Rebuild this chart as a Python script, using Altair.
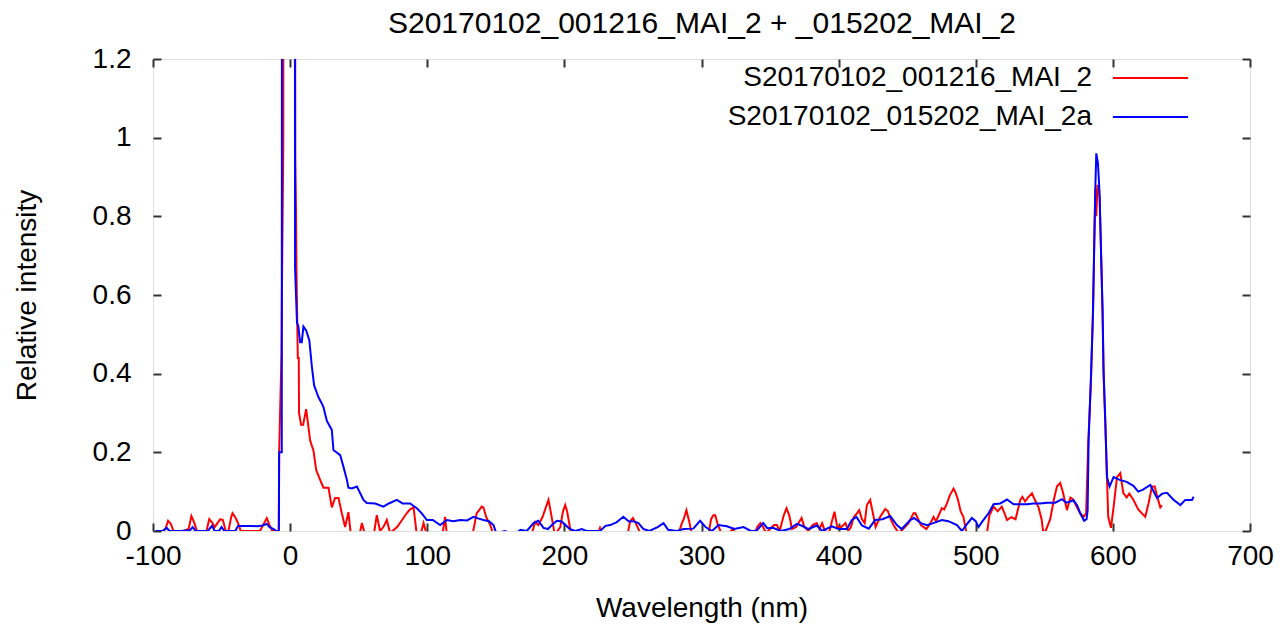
import altair as alt
import pandas as pd

NAME_RED = "S20170102_001216_MAI_2"
NAME_BLUE = "S20170102_015202_MAI_2a"
TITLE = "S20170102_001216_MAI_2 + _015202_MAI_2"

red_x = [-97, -93, -91, -89, -87, -85, -78, -74, -72, -70, -68, -61, -59, -57, -55, -53, -51, -49, -47, -45,
         -43, -42, -40, -38, -36, -22, -19, -17, -15, -13, -8.3, -8.0, -6.3, -6.0, -5.0, -4.8, 3.5, 3.8, 4.3, 4.6,
         5.2, 5.6, 6.3, 6.5, 8, 9.5, 11.7, 14.6, 17, 19, 21.9, 24.3, 28, 30.4, 32.8, 35.3, 37.7, 40.1, 42.5, 44.3,
         50, 52.3, 54.7, 61, 63.2, 65.6, 68, 70.5, 72.9, 78, 82, 85, 87.5, 90, 92.4, 95, 97.3, 99.7, 111, 113,
         114.3, 133, 136, 139.8, 141, 143, 146, 148.3, 176, 178.7, 181, 184, 188.4, 190, 193, 197, 199, 200.6, 202, 205,
         224, 226, 228, 246, 248, 250, 252, 256, 283, 285.7, 287, 289, 291, 293, 305, 307, 308.6, 310, 312, 315,
         320, 323, 325, 338, 341, 343, 345, 347, 350, 353, 355, 357, 360, 362, 364, 366, 369, 373, 375, 378,
         381, 384, 386, 388, 390, 393, 395.5, 397, 399, 402, 405, 407, 409, 411, 413.3, 415, 417, 419, 420.6, 423,
         425, 427, 430.3, 434, 436, 438, 440, 443.7, 447, 451, 454.6, 456, 458, 460, 464, 467, 469.2, 471, 473, 475.3,
         477, 479, 481, 483.8, 485, 487, 489, 491, 493.5, 508, 510, 513, 516, 519, 521, 522.8, 526, 529, 532.5, 534,
         536, 538, 541, 543, 545.8, 548, 549.5, 551.5, 554.3, 557, 559.2, 561.6, 563.5, 566.5, 569, 571, 573.8, 576.2,
         578.6, 580.5, 582, 584, 585.5, 586.4, 587.2, 587.9, 588.8, 590.3, 591.3, 592.5, 593.2, 594.5, 595.7, 596.6,
         598.6, 600.5, 603, 605.4, 607.6, 610, 612, 615, 618.5, 623.6, 626, 628.5, 630.5, 632.5, 634.6, 635.8]
red_y = [0.0, 0.0, 0.005, 0.026, 0.018, 0.0, 0.0, 0.005, 0.038, 0.022, 0.0, 0.0, 0.03, 0.022, 0.01, 0.02, 0.03, 0.028, 0.0, 0.0,
         0.035, 0.045, 0.035, 0.02, 0.0, 0.0, 0.02, 0.033, 0.015, 0.0, 0.0, 0.2, 0.45, 0.6, 0.97, 2.0, 2.0, 0.95, 0.81, 0.67,
         0.53, 0.44, 0.44, 0.30, 0.27, 0.27, 0.31, 0.23, 0.205, 0.155, 0.13, 0.11, 0.11, 0.06, 0.084, 0.084, 0.045, 0.01, 0.048, -0.01,
         -0.02, 0.02, -0.01, -0.01, 0.04, 0.0, 0.01, 0.028, -0.005, 0.01, 0.03, 0.045, 0.055, 0.06, -0.01, -0.01, 0.02, -0.01, -0.01, 0.036,
         -0.01, -0.01, 0.045, 0.062, 0.06, 0.035, 0.015, -0.01, -0.01, 0.023, 0.015, 0.035, 0.079, 0.05, -0.01, 0.01, 0.05, 0.066, 0.05, -0.01,
         -0.01, 0.008, -0.01, -0.01, 0.025, 0.033, 0.02, -0.01, -0.01, 0.02, 0.03, 0.053, 0.025, -0.01, -0.01, 0.03, 0.04, 0.04, 0.015, -0.01,
         -0.005, 0.005, -0.01, -0.01, 0.012, 0.02, 0.01, -0.005, 0.005, 0.015, 0.015, 0.0, 0.04, 0.058, 0.04, 0.005, 0.01, 0.033, 0.01, 0.0,
         0.015, 0.02, 0.005, 0.02, 0.0, -0.005, 0.03, 0.049, 0.01, 0.01, 0.02, 0.0, 0.01, 0.035, 0.045, 0.053, 0.03, 0.02, 0.066, 0.079,
         0.045, 0.01, 0.036, 0.056, 0.05, 0.03, 0.015, -0.005, 0.005, 0.02, 0.045, 0.045, 0.03, 0.015, 0.005, 0.02, 0.036, 0.025, 0.04, 0.058,
         0.055, 0.07, 0.09, 0.108, 0.1, 0.08, 0.05, 0.036, -0.01, -0.01, 0.04, 0.062, 0.05, 0.062, 0.045, 0.028, 0.035, 0.03, 0.079, 0.087,
         0.075, 0.085, 0.096, 0.08, 0.06, 0.03, -0.01, 0.005, 0.03, 0.08, 0.113, 0.122, 0.1, 0.053, 0.085, 0.08, 0.06, 0.045,
         0.036, 0.045, 0.22, 0.38, 0.55, 0.72, 0.87, 0.80, 0.88, 0.85, 0.72, 0.55, 0.40, 0.27, 0.137, 0.036,
         0.008, 0.06, 0.137, 0.147, 0.097, 0.085, 0.095, 0.079, 0.055, 0.036, 0.07, 0.113, 0.113, 0.085, 0.06, 0.065]

blue_x = [-98, -93, -90, -88, -80, -73, -71, -69, -60, -57, -55, -52, -50, -48, -40, -38, -32, -28, -24, -20,
          -17, -15, -12, -10, -8.2, -8.0, -6.1, -5.9, 3.4, 3.6, 5.0, 6.0, 7.3, 8.5, 9.7, 11.7, 14, 15.8, 17.5, 20.7,
          23, 24.3, 26.8, 30.4, 31.6, 36.5, 38.9, 41.4, 42.5, 45, 48.7, 53.5, 55.9, 62, 68, 72, 77.8, 82, 87.5, 92.4,
          96, 99.7, 104, 109.4, 114.3, 119, 124, 129, 133.7, 137, 141, 145, 148.3, 150.3, 156.8, 160, 165, 168, 172.6, 177.5,
          181, 184.8, 188, 190.9, 194.5, 198, 204, 208, 212.7, 216, 226, 230, 233.4, 238, 243, 247, 250.4, 254, 257.7, 262,
          268, 272.3, 275.7, 282, 287, 294, 299, 303, 307.6, 312.4, 318.5, 324, 330.6, 336, 340, 345, 348, 352, 358, 364,
          369.6, 374, 378, 384, 388, 395, 400, 406, 409.7, 413, 417, 422, 426.7, 432, 437.6, 442.5, 446, 452.2, 455, 460,
          464.4, 469, 475.3, 480, 486.3, 489.9, 493, 497.2, 500, 502, 505, 509.3, 513, 517.9, 522.8, 527.6, 532, 537.3, 542, 547,
          552, 558, 562.9, 566, 569, 571.3, 574, 576.2, 579, 580.8, 581.6, 582.3, 584, 585.5, 586.4, 587.2, 587.9, 589.1, 590.3, 591.3,
          592.5, 593.2, 594.5, 595.7, 597.6, 600.5, 605, 610, 615, 618.5, 622, 627.3, 632.2, 636, 639.5, 644, 649.2, 652.8, 657.7, 658.9]
blue_y = [0.0, 0.0, 0.008, 0.0, 0.0, 0.002, 0.01, 0.0, 0.0, 0.013, 0.0, 0.0, 0.01, 0.0, 0.0, 0.013, 0.013, 0.013, 0.012, 0.014,
          0.018, 0.01, 0.005, 0.0, 0.0, 0.2, 0.2, 2.0, 2.0, 0.67, 0.53, 0.52, 0.48, 0.48, 0.52, 0.51, 0.485, 0.42, 0.37, 0.34,
          0.325, 0.315, 0.28, 0.257, 0.206, 0.193, 0.163, 0.13, 0.11, 0.108, 0.113, 0.079, 0.071, 0.07, 0.062, 0.07, 0.079, 0.07, 0.07, 0.058,
          0.045, 0.028, 0.028, 0.015, 0.028, 0.025, 0.028, 0.027, 0.036, 0.032, 0.028, 0.025, 0.015, -0.005, 0.0, -0.005, -0.005, 0.003, 0.0, 0.02,
          0.026, 0.008, 0.005, 0.015, 0.026, 0.024, 0.005, 0.0, 0.005, 0.0, 0.0, 0.013, 0.015, 0.022, 0.036, 0.024, 0.025, 0.02, 0.005, 0.0,
          0.01, 0.02, 0.003, 0.0, 0.005, 0.006, 0.026, 0.01, 0.0, 0.015, 0.012, 0.005, 0.01, 0.0, 0.0, 0.02, 0.007, 0.008, 0.0, 0.005,
          0.018, 0.012, 0.005, 0.014, 0.0, 0.012, 0.005, 0.005, 0.028, 0.036, 0.014, 0.006, 0.028, 0.03, 0.038, 0.015, 0.005, 0.028, 0.033, 0.02,
          0.015, 0.02, 0.028, 0.025, 0.015, 0.0, 0.015, 0.033, 0.025, 0.01, 0.025, 0.045, 0.068, 0.07, 0.08, 0.068, 0.068, 0.068, 0.07, 0.07,
          0.072, 0.072, 0.081, 0.072, 0.075, 0.078, 0.065, 0.045, 0.026, 0.03, 0.053, 0.23, 0.39, 0.56, 0.73, 0.87, 0.96, 0.935, 0.86, 0.72,
          0.56, 0.41, 0.277, 0.137, 0.113, 0.137, 0.13, 0.125, 0.115, 0.1, 0.105, 0.117, 0.084, 0.095, 0.097, 0.08, 0.066, 0.079, 0.079, 0.087]

x_ticks = [-100, 0, 100, 200, 300, 400, 500, 600, 700]
y_ticks = [0, 0.2, 0.4, 0.6, 0.8, 1.0, 1.2]

df = pd.concat([
    pd.DataFrame({"x": red_x, "y": red_y, "series": NAME_RED, "order": range(len(red_x))}),
    pd.DataFrame({"x": blue_x, "y": blue_y, "series": NAME_BLUE, "order": range(len(blue_x))}),
], ignore_index=True)

W, H = 1097, 472
FONT = "Liberation Sans"
FS = 28
TICKC = "#333333"

xscale = alt.Scale(domain=[-100, 700], nice=False, zero=False)
yscale = alt.Scale(domain=[0, 1.2], nice=False, zero=False)

base = alt.Chart(df)

main = base.mark_line(strokeWidth=2, clip=True).encode(
    x=alt.X("x:Q", scale=xscale,
            axis=alt.Axis(orient="bottom", values=x_ticks, ticks=False, tickSize=0, domain=False, grid=False,
                          labelExpr="'' + datum.value", labelFont=FONT, labelFontSize=FS, labelColor="black",
                          labelPadding=11, labelFlush=False, title="Wavelength (nm)", titleFont=FONT,
                          titleFontSize=FS, titleFontWeight="normal", titleColor="black",
                          titleBaseline="middle", titleY=77)),
    y=alt.Y("y:Q", scale=yscale,
            axis=alt.Axis(orient="left", values=y_ticks, ticks=False, tickSize=0, domain=False, grid=False,
                          format=".1~f", labelFont=FONT, labelFontSize=FS, labelColor="black",
                          labelPadding=22, labelFlush=False, title="Relative intensity", titleFont=FONT,
                          titleFontSize=FS, titleFontWeight="normal", titleColor="black",
                          titleBaseline="middle", titleX=-126, titleY=H / 2)),
    color=alt.Color("series:N",
                    scale=alt.Scale(domain=[NAME_RED, NAME_BLUE], range=["#ff0000", "#0000ff"]),
                    legend=alt.Legend(orient="none", legendX=973, legendY=-5.5, title=None,
                                      symbolType="M-1.6,0H1.6", symbolSize=2209, symbolStrokeWidth=2,
                                      labelAlign="right", labelOffset={"expr": "-83"}, labelFont=FONT,
                                      labelFontSize=FS, labelColor="black", labelLimit=1000, rowPadding=0,
                                      padding=0)),
    order="order:Q",
)

def tick_axis(orient, values, **kw):
    return alt.Axis(orient=orient, values=values, labels=False, domain=False,
                    grid=False, ticks=True, tickSize={"expr": "-8"}, tickWidth=2, tickColor=TICKC, **kw)

inner1 = base.mark_line(opacity=0).encode(
    x=alt.X("x:Q", scale=xscale, axis=tick_axis("bottom", x_ticks, title=None)),
    y=alt.Y("y:Q", scale=yscale, axis=tick_axis("left", y_ticks, title=None)),
)
inner2 = base.mark_line(opacity=0).encode(
    x=alt.X("x:Q", scale=xscale,
            axis=tick_axis("top", x_ticks, title=TITLE, titleFont=FONT, titleFontSize=30,
                           titleFontWeight="normal", titleColor="black", titleBaseline="middle",
                           titleX=W / 2, titleY=-36, titleAlign="center")),
    y=alt.Y("y:Q", scale=yscale, axis=tick_axis("right", y_ticks, title=None)),
)

chart = alt.layer(main, inner1, inner2).resolve_axis(
    x="independent", y="independent"
).properties(
    width=W, height=H,
    autosize=alt.AutoSizeParams(type="none"),
    padding={"left": 145, "top": 51, "right": 24, "bottom": 95},
).configure_view(
    stroke=TICKC, strokeWidth=2
).configure(background="white")

chart.save("out.html", embed_options={"renderer": "svg", "actions": False})
